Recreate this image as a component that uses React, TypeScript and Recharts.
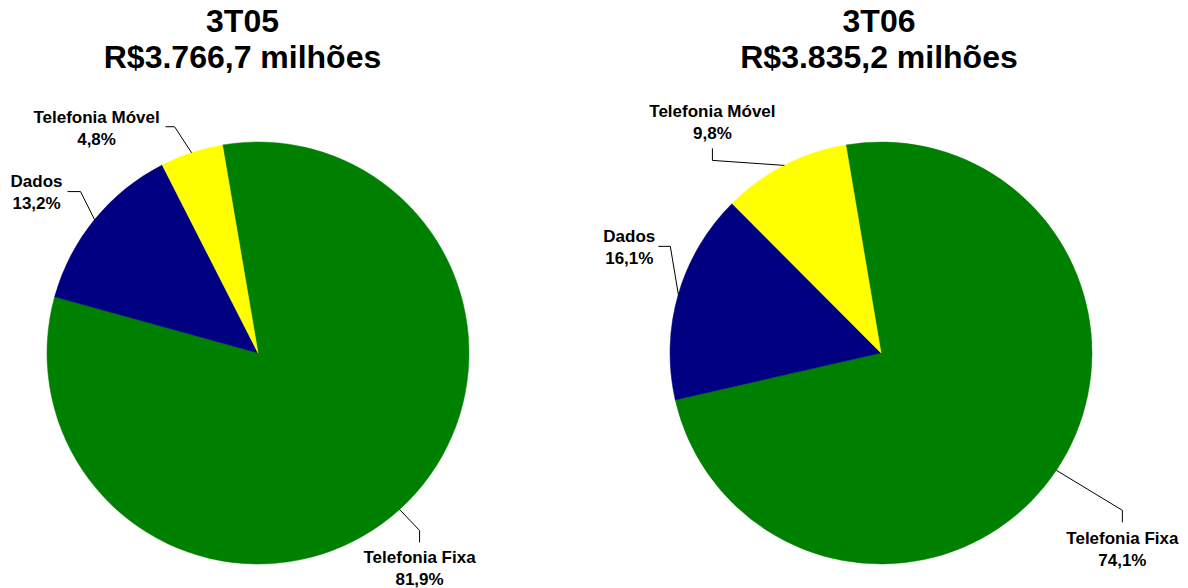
import React from 'react';
import { PieChart, Pie, Cell } from 'recharts';

const categories = ['Telefonia Fixa', 'Dados', 'Telefonia Móvel'];
const share3T05 = [81.9, 13.2, 4.8];
const share3T06 = [74.1, 16.1, 9.8];
const periods = ['3T05', '3T06'];
const revenueTotals = ['R$3.766,7 milhões', 'R$3.835,2 milhões'];
const sliceColors = ['#008000', '#000080', '#FFFF00'];

const data3T05 = categories.map((name, i) => ({ name, value: share3T05[i] }));
const data3T06 = categories.map((name, i) => ({ name, value: share3T06[i] }));

// leader line styling: elbow offset from the slice edge, segment to label, label offset
type LeaderCfg = { ex: number; ey: number; sx: number; sy: number; lx: number; ly: number };
const leftLeaders: LeaderCfg[] = [
  { ex: 20, ey: 21, sx: 0, sy: 12, lx: 0, ly: 21 },
  { ex: -14, ey: -28, sx: -13, sy: 0, lx: -31, ly: -5 },
  { ex: -17, ey: -26, sx: -9, sy: 0, lx: -69, ly: -4 },
];
const rightLeaders: LeaderCfg[] = [
  { ex: 66, ey: 40, sx: 0, sy: 12, lx: 0, ly: 22 },
  { ex: -8, ey: -48, sx: -12, sy: 0, lx: -29, ly: -4 },
  { ex: -72, ey: -5, sx: 0, sy: -12, lx: 0, ly: -31 },
];

const FONT = '"Liberation Sans", Arial, Helvetica, sans-serif';
const RAD = Math.PI / 180;

const fmt = (v: number) => v.toFixed(1).replace('.', ',') + '%';

const makeLabel = (cfgs: LeaderCfg[]) => (props: any) => {
  const { cx, cy, midAngle, outerRadius, index, name, value } = props;
  const c = cfgs[index];
  const x0 = cx + outerRadius * Math.cos(-midAngle * RAD);
  const y0 = cy + outerRadius * Math.sin(-midAngle * RAD);
  const x1 = x0 + c.ex;
  const y1 = y0 + c.ey;
  const x2 = x1 + c.sx;
  const y2 = y1 + c.sy;
  const tx = x2 + c.lx;
  const ty = y2 + c.ly;
  return (
    <g key={`lbl-${index}`}>
      <polyline points={`${x0},${y0} ${x1},${y1} ${x2},${y2}`} fill="none" stroke="#000" strokeWidth={1} />
      <text x={tx} y={ty} textAnchor="middle" fontFamily={FONT} fontWeight="bold" fontSize={17} fill="#000">
        {name}
      </text>
      <text x={tx} y={ty + 22} textAnchor="middle" fontFamily={FONT} fontWeight="bold" fontSize={17} fill="#000">
        {fmt(value)}
      </text>
    </g>
  );
};

const titleCenters = [242.5, 879];

export default function App() {
  return (
    <div style={{ position: 'absolute', left: 0, top: 0, width: 1188, height: 588, background: '#fff', overflow: 'hidden' }}>
      <PieChart width={1188} height={588} margin={{ top: 0, right: 0, bottom: 0, left: 0 }}>
        <Pie
          data={data3T05}
          dataKey="value"
          nameKey="name"
          cx={258}
          cy={353}
          outerRadius={211}
          startAngle={99.7}
          endAngle={-260.3}
          stroke="none"
          isAnimationActive={false}
          label={makeLabel(leftLeaders)}
          labelLine={false}
        >
          {data3T05.map((d, i) => (
            <Cell key={d.name} fill={sliceColors[i]} stroke={sliceColors[i]} strokeWidth={0.5} />
          ))}
        </Pie>
        <Pie
          data={data3T06}
          dataKey="value"
          nameKey="name"
          cx={881}
          cy={353}
          outerRadius={211}
          startAngle={99.6}
          endAngle={-260.4}
          stroke="none"
          isAnimationActive={false}
          label={makeLabel(rightLeaders)}
          labelLine={false}
        >
          {data3T06.map((d, i) => (
            <Cell key={d.name} fill={sliceColors[i]} stroke={sliceColors[i]} strokeWidth={0.5} />
          ))}
        </Pie>
      </PieChart>
      {periods.map((p, i) => (
        <div
          key={p}
          style={{
            position: 'absolute',
            left: titleCenters[i] - 250,
            width: 500,
            top: 3,
            textAlign: 'center',
            fontFamily: FONT,
            fontWeight: 'bold',
            fontSize: 32,
            lineHeight: '36px',
            color: '#000',
          }}
        >
          <div>{p}</div>
          <div>{revenueTotals[i]}</div>
        </div>
      ))}
    </div>
  );
}
